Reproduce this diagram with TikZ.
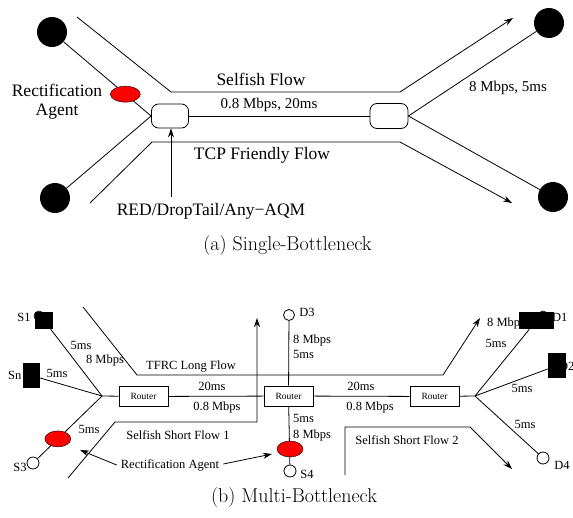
\documentclass[tikz,border=0pt]{standalone}
\usepackage{fontspec}
\newfontfamily\tms{Liberation Serif}
\usetikzlibrary{arrows.meta,calc,shapes.geometric}
\begin{document}
\begin{tikzpicture}[x=1pt,y=-1pt,
  ln/.style={line width=0.8pt},
  arr/.style={ln,-{Stealth[length=9pt,width=6pt]}},
  blk/.style={circle,fill=black,minimum size=30pt,inner sep=0pt},
  rtr/.style={draw,ln,rounded corners=7pt,minimum width=37pt,minimum height=24pt,inner sep=0pt,fill=white},
  redag/.style={ellipse,fill=red,draw=black,line width=0.4pt,inner sep=0pt},
  box/.style={draw,ln,fill=white,minimum width=49pt,minimum height=20pt,inner sep=0pt,font=\tms\fontsize{9.5}{11}\selectfont},
  sq/.style={fill=black,inner sep=0pt},
  hollow/.style={circle,draw,ln,fill=white,minimum size=11pt,inner sep=0pt},
  lblA/.style={font=\tms\fontsize{17.5}{20}\selectfont,inner sep=0pt},
  lblS/.style={font=\tms\fontsize{15}{17}\selectfont,inner sep=0pt},
  lblB/.style={font=\tms\fontsize{12.5}{14}\selectfont,inner sep=0pt},
  captxt/.style={font=\fontsize{20}{24}\selectfont,inner sep=0pt}
]
\useasboundingbox (0,0) rectangle (573,517);

% ===== (a) Single-Bottleneck =====
\node[blk] (TL) at (52,32) {};
\node[blk] (BL) at (55,198) {};
\node[blk] (TR) at (549,23) {};
\node[blk] (BR) at (553,197) {};
\node[rtr] (RA) at (170,116) {};
\node[rtr,minimum width=38pt,minimum height=25pt] (RB) at (389,116) {};

\draw[ln] (TL) -- (RA.west);
\draw[ln] (BL) -- (RA.west);
\draw[ln] (RA.east) -- (RB.west);
\draw[ln] (RB.east) -- (TR);
\draw[ln] (RB.east) -- (BR);
\node[redag,minimum width=30pt,minimum height=16pt] (AgA) at ($(TL)!0.74!(RA.west)$) {};

\coordinate (sf1) at (77,17);
\coordinate (sf2) at (171,92);
\coordinate (sf3) at (400,92);
\coordinate (sf4) at (513,18);
\draw[arr] (sf1) -- (sf2) -- (sf3) -- (sf4);

\coordinate (tf1) at (90,203);
\coordinate (tf2) at (152,142);
\coordinate (tf3) at (400,142);
\coordinate (tf4) at (512,203);
\draw[arr] (tf1) -- (tf2) -- (tf3) -- (tf4);

\node[lblA] (aqm) at (211,211) {RED/DropTail/Any\textminus AQM};
\coordinate (aqmS) at (171,197);
\draw[arr] (aqmS) -- (aqmS |- RA.south);

\node[lblA] (selfA) at (261,79) {Selfish Flow};
\node[lblS] (bwA) at (269,105) {0.8 Mbps, 20ms};
\node[lblA] (tcpA) at (262,155) {TCP Friendly Flow};
\node[lblA,align=center] (ragA) at (57,102) {Rectification\\[-1pt]Agent};
\node[lblS] (lkA) at (508,88) {8 Mbps, 5ms};
\node[captxt] (capA) at (287.5,246) {(a) Single-Bottleneck};

% ===== (b) Multi-Bottleneck =====
\coordinate (J1) at (102,396);
\coordinate (J2) at (475,396);
\node[box] (R1) at (143.5,396.5) {Router};
\node[box] (R2) at (288.5,396) {Router};
\node[box] (R3) at (434.5,396.5) {Router};

\node[lblB,anchor=west] (SnL) at (8,375) {Sn};
\node[lblB,anchor=west] (D1mb) at (487,323) {8 Mbps};
\node[lblB,anchor=west] (D1L) at (552,317) {D1};
\node[lblB,anchor=west] (D2L) at (559,366) {D2};

\node[hollow,minimum size=10pt] (S1c) at (39,316) {};
\node[hollow,minimum size=10pt] (D1c) at (543,316) {};
\node[sq,minimum width=18pt,minimum height=17pt] (S1) at (44,320.5) {};
\node[sq,minimum width=17pt,minimum height=25pt] (Sn) at (31.5,375.5) {};
\node[sq,minimum width=35pt,minimum height=17pt] (D1) at (536.5,320.5) {};
\node[sq,minimum width=18pt,minimum height=25pt] (D2) at (557,365.5) {};
\node[hollow,minimum size=12pt] (S3) at (33,463) {};
\node[hollow,minimum size=12pt] (D4) at (543,458) {};
\node[hollow,minimum size=11pt] (D3) at (289,315) {};
\node[hollow,minimum size=12pt] (S4) at (290,471) {};

\draw[ln] (S1) -- (J1);
\draw[ln] (Sn) -- (J1);
\draw[ln] (S3) -- (J1);
\draw[ln] (J1) -- (R1);
\draw[ln] (R1) -- (R2);
\draw[ln] (R2) -- (R3);
\draw[ln] (R3) -- (J2);
\draw[ln] (J2) -- (D1);
\draw[ln] (J2) -- (D2);
\draw[ln] (J2) -- (D4);
\draw[ln] (D3) -- (R2);
\draw[ln] (R2) -- (S4);
\node[redag,minimum width=26pt,minimum height=16pt] (AgB1) at ($(S3)!0.36!(J1)$) {};
\node[redag,minimum width=26pt,minimum height=16pt] (AgB2) at (290,449) {};

\coordinate (tr1) at (83,307);
\coordinate (tr2) at (137,375);
\coordinate (tr3) at (443,375);
\coordinate (tr4) at (480,318);
\draw[arr] (tr1) -- (tr2) -- (tr3) -- (tr4);

\coordinate (ss1) at (68,478);
\coordinate (ss2) at (115,422);
\coordinate (ss3) at (257,422);
\coordinate (ss4) at (257,318);
\draw[arr] (ss1) -- (ss2) -- (ss3) -- (ss4);

\coordinate (st1) at (345,475);
\coordinate (st2) at (345,427);
\coordinate (st3) at (470,427);
\coordinate (st4) at (512,469);
\draw[arr] (st1) -- (st2) -- (st3) -- (st4);

\node[lblB] (ragB) at (170,465) {Rectification Agent};
\coordinate (ragT1) at (80,450);
\coordinate (ragT2) at (272,454);
\coordinate (ragW) at ($(ragB.west)+(-4,0)$);
\coordinate (ragE) at ($(ragB.east)+(4,-1)$);
\draw[arr] (ragW) -- (ragT1);
\draw[arr] (ragE) -- (ragT2);

\node[lblB] (S1L) at (24,317) {S1};
\node[lblB] (S3L) at (20,467) {S3};
\node[lblB] (l1) at (81,345) {5ms};
\node[lblB] (l2) at (105,360) {8 Mbps};
\node[lblB] (l3) at (57,373) {5ms};
\node[lblB] (l4) at (89,429) {5ms};
\node[lblB] (tfrc) at (191,367) {TFRC Long Flow};
\node[lblB] (l5) at (212,386) {20ms};
\node[lblB] (l6) at (217,407) {0.8 Mbps};
\node[lblB] (ssf1) at (178,435) {Selfish Short Flow 1};
\node[lblB] (D3L) at (307,312) {D3};
\node[lblB,anchor=west] (l7) at (293,340) {8 Mbps};
\node[lblB,anchor=west] (l8) at (293,354) {5ms};
\node[lblB,anchor=west] (l9) at (293,418) {5ms};
\node[lblB,anchor=west] (l10) at (293,435) {8 Mbps};
\node[lblB] (S4L) at (307,474) {S4};
\node[lblB] (l11) at (361,386) {20ms};
\node[lblB] (l12) at (370,407) {0.8 Mbps};
\node[lblB] (ssf2) at (407,440) {Selfish Short Flow 2};
\node[lblB] (l13) at (496,343) {5ms};
\node[lblB] (l14) at (522,388) {5ms};
\node[lblB] (l15) at (525,424) {5ms};
\node[lblB] (D4L) at (562,465) {D4};
\node[captxt] (capB) at (294,498) {(b) Multi-Bottleneck};
\end{tikzpicture}
\end{document}
